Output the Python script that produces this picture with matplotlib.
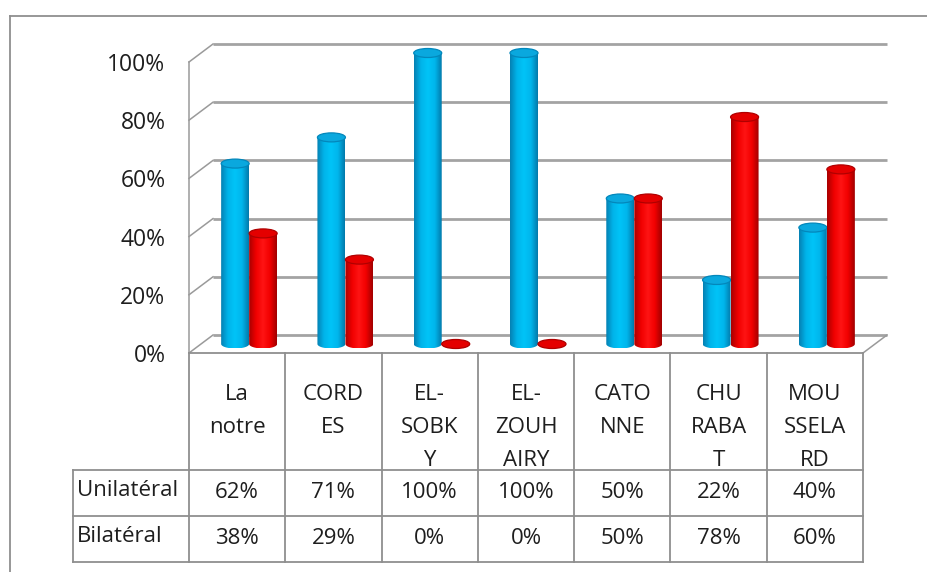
import numpy as np
import matplotlib
matplotlib.use("Agg")
import matplotlib.pyplot as plt
from matplotlib.path import Path
from matplotlib.patches import Ellipse, PathPatch
from matplotlib.lines import Line2D
from matplotlib.colors import LinearSegmentedColormap

# ---- data ----
categories = ["La\nnotre", "CORD\nES", "EL-\nSOBK\nY", "EL-\nZOUH\nAIRY",
              "CATO\nNNE", "CHU\nRABA\nT", "MOU\nSSELA\nRD"]
series_names = ["Unilatéral", "Bilatéral"]
unilateral = [62, 71, 100, 100, 50, 22, 40]
bilateral = [38, 29, 0, 0, 50, 78, 60]
yticks = [0, 20, 40, 60, 80, 100]

plt.rcParams["font.family"] = ["Open Sans", "DejaVu Sans"]
TEXT = "#1e1e1e"
LINE = "#8f8f8f"
FS = 16

W, H = 928, 572
fig = plt.figure(figsize=(W / 100, H / 100), dpi=100)
fig.patch.set_facecolor("white")

n = len(categories)
ax = fig.add_axes([189 / W, 1 - 353 / H, 674 / W, 291 / H])
ax.set_xlim(0, n)
ax.set_ylim(0, 100)
for s in ax.spines.values():
    s.set_visible(False)
ax.set_xticks([])
ax.set_yticks(yticks)
ax.set_yticklabels([f"{t}%" for t in yticks], fontsize=16.5, color=TEXT)
ax.tick_params(axis="y", length=0, pad=17)

# pixel -> data scale factors
SX = 674 / n
SY = 291 / 100
DX = 24 / SX      # depth offset of the back wall (x)
DY = 18 / SY      # depth offset of the back wall (y)

# ---- walls and floor ----
for t in yticks:
    ax.plot([DX, n + DX], [t + DY, t + DY], color="#a3a3a3", lw=2.0,
            solid_capstyle="butt", zorder=1, clip_on=False)
    ax.plot([0, DX], [t, t + DY], color="#9a9a9a", lw=1.1, zorder=1, clip_on=False)
ax.plot([0, 0], [0, 100], color="#9a9a9a", lw=1.1, zorder=1, clip_on=False)
ax.plot([n, n + DX], [0, DY], color="#9a9a9a", lw=1.1, zorder=1, clip_on=False)

# ---- cylinders ----
blue_cmap = LinearSegmentedColormap.from_list(
    "cyl_blue", ["#0580b2", "#00b4ea", "#00c4f8", "#00b6ec", "#0379aa"])
red_cmap = LinearSegmentedColormap.from_list(
    "cyl_red", ["#a80000", "#f00000", "#ff1414", "#f20000", "#a00000"])


def cylinder(xc, value, width, cmap, cap_face, cap_edge, z):
    xl, xr = xc - width / 2, xc + width / 2
    yb = DY / 2
    yt = yb + value
    eh = 9 / SY
    t = np.linspace(np.pi, 2 * np.pi, 48)
    bx = xc + (width / 2) * np.cos(t)
    by = yb + (eh / 2) * np.sin(t)
    verts = [(xl, yt)] + list(zip(bx, by)) + [(xr, yt), (xl, yt)]
    body = PathPatch(Path(verts, closed=True), facecolor="none",
                     edgecolor="none", transform=ax.transData, clip_on=False)
    ax.add_patch(body)
    grad = np.linspace(0, 1, 128)[None, :]
    im = ax.imshow(grad, cmap=cmap, extent=(xl, xr, yb - eh / 2, yt),
                   aspect="auto", interpolation="bilinear", origin="lower",
                   zorder=z)
    im.set_clip_box(fig.bbox)
    im.set_clip_path(body)
    ax.add_patch(Ellipse((xc, yt), width, eh, facecolor=cap_face,
                         edgecolor=cap_edge, lw=0.9, zorder=z + 0.1,
                         clip_on=False))


bar_w = 28 / SX
for i in range(n):
    center = i + 0.5 + DX / 2
    cylinder(center - bar_w / 2, unilateral[i], bar_w, blue_cmap,
             "#0aa8de", "#0387bb", 3 + i)
    cylinder(center + bar_w / 2, bilateral[i], bar_w, red_cmap,
             "#e40000", "#b00000", 3.5 + i)

ax.set_xlim(0, n)
ax.set_ylim(0, 100)

# ---- data table ----
y_head = -(470 - 353) / SY
y_row1 = -(516 - 353) / SY
y_row2 = -(562 - 353) / SY
x_lab = (73 - 189) / SX

kw = dict(color=LINE, lw=1.3, clip_on=False, zorder=2)
ax.plot([0, n], [0, 0], **kw)
for x in range(n + 1):
    ax.plot([x, x], [0, y_row2], **kw)
ax.plot([x_lab, x_lab], [y_head, y_row2], **kw)
for y in (y_head, y_row1, y_row2):
    ax.plot([x_lab, n], [y, y], **kw)

for i, cat in enumerate(categories):
    ax.text(i + 0.5, -(384 - 353) / SY, cat, ha="center", va="top",
            fontsize=FS, color=TEXT, linespacing=1.76, clip_on=False)
    ax.text(i + 0.5, (y_head + y_row1) / 2, f"{unilateral[i]}%", ha="center",
            va="center", fontsize=FS, color=TEXT, clip_on=False)
    ax.text(i + 0.5, (y_row1 + y_row2) / 2, f"{bilateral[i]}%", ha="center",
            va="center", fontsize=FS, color=TEXT, clip_on=False)

ax.text(x_lab + 4 / SX, -(490 - 353) / SY, series_names[0], ha="left",
        va="center", fontsize=FS, color=TEXT, clip_on=False)
ax.text(x_lab + 4 / SX, -(536 - 353) / SY, series_names[1], ha="left",
        va="center", fontsize=FS, color=TEXT, clip_on=False)

# ---- outer chart frame ----
fig.add_artist(Line2D([10 / W, 10 / W], [0, 1 - 16 / H], color=LINE, lw=1.3))
fig.add_artist(Line2D([10 / W, 1], [1 - 16 / H, 1 - 16 / H], color=LINE, lw=1.3))

fig.savefig("out.png", dpi=100, facecolor="white")
